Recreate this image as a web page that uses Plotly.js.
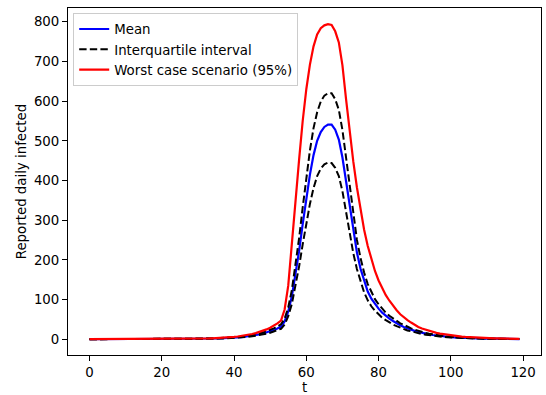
<!DOCTYPE html>
<html>
<head>
<meta charset="utf-8">
<script src="https://cdn.plot.ly/plotly-3.0.1.min.js"></script>
<style>html,body{margin:0;padding:0;background:#fff;}#plot{width:546px;height:395px;}</style>
</head>
<body>
<div id="plot"></div>
<script>
// Day index
var t = [];
for (var i = 0; i < 120; i++) t.push(i);

var meanVals = [
0,0,0,0,0,0,0,0,0,0,
0.03,0.04,0.05,0.05,0.06,0.07,0.09,0.1,0.12,0.14,
0.16,0.19,0.22,0.27,0.31,0.36,0.43,0.5,0.58,0.68,
0.82,0.95,1.1,1.3,1.5,1.8,2.1,2.4,2.9,3.4,
4.0,4.7,5.5,6.5,7.5,8.9,10.4,12.2,14.3,16.9,
19.8,23.2,27.2,32.0,45,70,108,160,222,290,
356,415,464,500,522,535,541,541,528,503,
458,398,332,272,219,178,146,120,102,88,
77,67,59,52,46,40,35,31,27,24,
21,18.5,16,14,12.2,10.6,9.2,8,7,6.1,
5.3,4.7,4.1,3.6,3.2,2.8,2.5,2.2,1.9,1.7,
1.5,1.3,1.15,1.0,0.9,0.8,0.7,0.62,0.55,0.48
];

var q25Vals = [
0,0,0,0,0,0,0,0,0,0,
0.02,0.03,0.04,0.04,0.05,0.06,0.07,0.08,0.1,0.11,
0.13,0.16,0.18,0.22,0.25,0.3,0.35,0.41,0.48,0.56,
0.67,0.78,0.9,1.06,1.23,1.46,1.74,2.0,2.4,2.8,
3.3,3.9,4.5,5.3,6.2,7.3,8.6,10.1,11.8,13.9,
16.3,19.1,22.4,26.3,37,58,89,132,183,239,
293,341,381,411,430,441,445,444,432,411,
373,320,267,217,177,144,118,98,83,72,
62,54,48,42,37,33,29,25.5,22,20,
17.3,15.2,13.2,11.5,10,8.7,7.6,6.6,5.8,5.0,
4.4,3.9,3.4,3.0,2.6,2.3,2.1,1.8,1.6,1.4,
1.2,1.1,0.95,0.82,0.74,0.66,0.58,0.51,0.45,0.4
];

var q75Vals = [
0,0,0,0,0,0,0,0,0,0,
0.04,0.05,0.06,0.06,0.07,0.09,0.1,0.12,0.14,0.16,
0.19,0.22,0.26,0.31,0.36,0.42,0.5,0.58,0.69,0.8,
0.96,1.1,1.3,1.5,1.8,2.1,2.5,2.9,3.4,4.0,
4.7,5.5,6.5,7.6,8.9,10.5,12.2,14.4,16.9,19.8,
23.3,27.3,32.0,37.6,52,80,124,183,254,332,
408,476,532,572,599,614,620,620,605,578,
527,455,380,312,251,205,168,139,118,101,
88,77,67,59,52,46,40,36,31,27.5,
24,21,18.3,16,14,12.1,10.5,9.2,8,7,
6.1,5.4,4.7,4.1,3.7,3.2,2.9,2.5,2.2,1.9,
1.7,1.5,1.3,1.15,1.0,0.9,0.8,0.7,0.63,0.55
];

var worstVals = [
0.01,0.01,0.01,0.02,0.02,0.02,0.03,0.03,0.04,0.04,
0.05,0.06,0.07,0.08,0.09,0.11,0.13,0.15,0.17,0.2,
0.24,0.28,0.33,0.39,0.45,0.53,0.63,0.73,0.86,1.0,
1.2,1.4,1.6,1.9,2.2,2.6,3.1,3.6,4.3,5.0,
5.9,6.9,8.1,9.5,11.1,13.1,15.3,18.0,21.1,24.8,
29.1,34.1,40.0,47.0,75,135,245,350,452,550,
630,692,738,768,784,791,794,792,776,748,
690,605,522,448,383,325,276,235,200,172,
148,128,111,97,84,73,63,55,48,42,
36,31,27,24,21,18.5,16,14,12.5,11,
9.6,8.5,7.5,6.6,5.8,5.1,4.5,4.0,3.5,3.1,
2.7,2.4,2.1,1.9,1.7,1.5,1.3,1.15,1.0,0.9
];

var xTicks = [0, 20, 40, 60, 80, 100, 120];
var yTicks = [0, 100, 200, 300, 400, 500, 600, 700, 800];

var font = {family: 'DejaVu Sans, sans-serif', size: 13.33, color: '#000'};

var traces = [
  {x: t, y: meanVals, name: 'Mean', mode: 'lines', line: {color: '#0000ff', width: 2.2}},
  {x: t, y: q25Vals, name: 'Interquartile interval', mode: 'lines', line: {color: '#000000', width: 2.0, dash: '7.4px,3.2px'}},
  {x: t, y: q75Vals, name: 'Interquartile interval', mode: 'lines', showlegend: false, line: {color: '#000000', width: 2.0, dash: '7.4px,3.2px'}},
  {x: t, y: worstVals, name: 'Worst case scenario (95%)', mode: 'lines', line: {color: '#ff0000', width: 2.2}}
];

var axisCommon = {
  showline: true, mirror: true, linecolor: '#000', linewidth: 1,
  ticks: 'outside', ticklen: 5, tickwidth: 1, tickcolor: '#000',
  showgrid: false, zeroline: false, tickfont: font
};

var layout = {
  width: 546, height: 395,
  margin: {l: 68, r: 5, t: 8, b: 40, pad: 0},
  paper_bgcolor: '#fff', plot_bgcolor: '#fff',
  font: font,
  showlegend: true,
  legend: {
    x: 0.011, y: 0.986, xanchor: 'left', yanchor: 'top',
    bgcolor: 'rgba(255,255,255,0.8)', bordercolor: '#cccccc', borderwidth: 1,
    font: font, tracegroupgap: 0
  },
  xaxis: Object.assign({}, axisCommon, {
    range: [-5.95, 124.95], tickvals: xTicks, ticktext: xTicks.map(String),
    title: {text: 't', font: font, standoff: 3}
  }),
  yaxis: Object.assign({}, axisCommon, {
    range: [-39.75, 834.75], tickvals: yTicks, ticktext: yTicks.map(String),
    title: {text: 'Reported daily infected', font: font, standoff: 4}
  })
};

Plotly.newPlot('plot', traces, layout, {displayModeBar: false, staticPlot: true});
</script>
</body>
</html>
